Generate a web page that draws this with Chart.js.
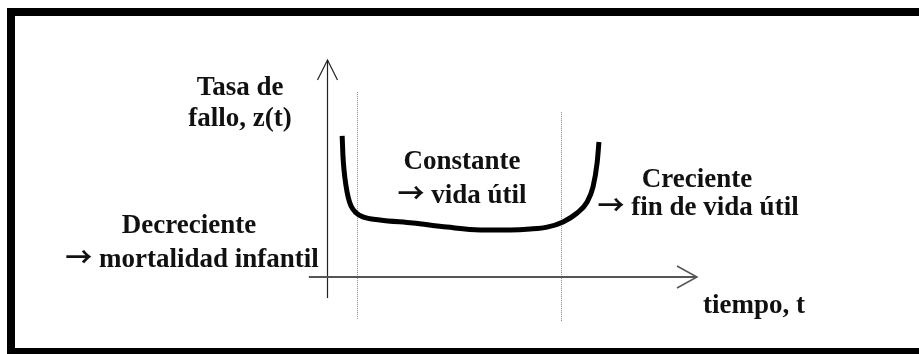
<!DOCTYPE html>
<html>
<head>
<meta charset="utf-8">
<script src="https://cdn.jsdelivr.net/npm/chart.js@4/dist/chart.umd.min.js"></script>
<style>
  html, body { margin: 0; padding: 0; background: #fff; }
  #wrap { width: 919px; height: 354px; position: relative; overflow: hidden; }
  canvas { display: block; }
</style>
</head>
<body>
<div id="wrap"><canvas id="c" width="919" height="354"></canvas></div>
<script>
// ---- Data (bathtub curve) ----
const tValues = [4.1, 4.3, 4.6, 5.1, 5.7, 6.5, 7.6, 9.7, 14.3, 23.2, 32.4, 41.4, 49.5, 54.9, 59.5, 63.8, 67.6, 70.3, 71.9, 73.0, 73.5];
const zValues = [65.0, 56.2, 49.3, 42.4, 36.9, 32.7, 30.0, 27.7, 26.3, 24.9, 23.0, 21.7, 21.7, 22.1, 23.0, 25.4, 29.5, 34.6, 41.5, 52.5, 62.2];
const phaseBoundaries = [8.1, 63.2];
const axisLabels = ["Tasa de", "fallo, z(t)", "tiempo, t"];
const phaseLabels = [
  ["Decreciente", "\u2192 mortalidad infantil"],
  ["Constante", "\u2192 vida \u00fatil"],
  ["Creciente", "\u2192 fin de vida \u00fatil"]
];

// ---- Scale ranges ----
const X_MIN = -88.38, X_MAX = 160;
const Y_MIN = -35.48, Y_MAX = 127.65;

const FONT = 'bold 27px "Liberation Serif", "Times New Roman", serif';
const ARROW_FONT = 'bold 27px "Noto Sans CJK SC", "DejaVu Sans", sans-serif';
const TEXT_COLOR = '#111';

function drawLine(ctx, txt, cx, by) {
  if (txt.charAt(0) === '\u2192') {
    const rest = txt.slice(1);
    ctx.font = ARROW_FONT;
    const wa = ctx.measureText('\u2192').width;
    ctx.font = FONT;
    const wr = ctx.measureText(rest).width;
    const x0 = cx - (wa + wr) / 2;
    ctx.textAlign = 'left';
    ctx.font = ARROW_FONT;
    ctx.fillText('\u2192', x0, by);
    ctx.font = FONT;
    ctx.fillText(rest, x0 + wa, by);
  } else {
    ctx.font = FONT;
    ctx.textAlign = 'center';
    ctx.fillText(txt, cx, by);
  }
}

const decoPlugin = {
  id: 'deco',
  beforeDraw(chart) {
    const ctx = chart.ctx;
    ctx.save();
    ctx.fillStyle = '#fff';
    ctx.fillRect(0, 0, chart.width, chart.height);
    // frame
    ctx.fillStyle = '#000';
    ctx.fillRect(7, 8, chart.width, 8);
    ctx.fillRect(7, 8, 8, chart.height);
    ctx.fillRect(7, 348, chart.width, 10);
    ctx.restore();
  },
  beforeDatasetsDraw(chart) {
    const ctx = chart.ctx;
    const xs = chart.scales.x, ys = chart.scales.y;
    const X = v => xs.getPixelForValue(v);
    const Y = v => ys.getPixelForValue(v);
    ctx.save();
    // dotted phase boundaries
    ctx.strokeStyle = '#8a8a8a';
    ctx.lineWidth = 1;
    ctx.setLineDash([1, 1]);
    const tops = [85.3, 76.0];
    const bots = [-19.4, -20.3];
    phaseBoundaries.forEach((b, i) => {
      const px = Math.round(X(b)) + 0.5;
      ctx.beginPath();
      ctx.moveTo(px, Y(tops[i]));
      ctx.lineTo(px, Y(bots[i]));
      ctx.stroke();
    });
    ctx.setLineDash([]);
    // y axis with arrow
    ctx.strokeStyle = '#222';
    ctx.lineWidth = 1.2;
    const x0 = Math.round(X(0)) + 0.5;
    ctx.beginPath();
    ctx.moveTo(x0, Y(-9.7));
    ctx.lineTo(x0, Y(100));
    ctx.stroke();
    ctx.beginPath();
    ctx.moveTo(x0 - 10, Y(100) + 20);
    ctx.lineTo(x0, Y(100));
    ctx.lineTo(x0 + 10, Y(100) + 20);
    ctx.stroke();
    // x axis with arrow
    ctx.strokeStyle = '#555';
    ctx.lineWidth = 2;
    const y0 = Math.round(Y(0));
    ctx.beginPath();
    ctx.moveTo(X(-4.9), y0);
    ctx.lineTo(X(100), y0);
    ctx.stroke();
    ctx.lineWidth = 1.5;
    ctx.beginPath();
    ctx.moveTo(X(100) - 20, y0 - 11);
    ctx.lineTo(X(100), y0);
    ctx.lineTo(X(100) - 20, y0 + 11);
    ctx.stroke();
    ctx.restore();
  },
  afterDatasetsDraw(chart) {
    const ctx = chart.ctx;
    const xs = chart.scales.x, ys = chart.scales.y;
    const X = v => xs.getPixelForValue(v);
    const Y = v => ys.getPixelForValue(v);
    ctx.save();
    ctx.fillStyle = TEXT_COLOR;
    ctx.textBaseline = 'alphabetic';
    drawLine(ctx, axisLabels[0], X(-23.5), Y(83.9));
    drawLine(ctx, axisLabels[1], X(-23.5), Y(69.6));
    drawLine(ctx, axisLabels[2], X(115.4), Y(-16.6));
    const pos = [
      [[-37.3, 20.3], [-36.5, 4.6]],
      [[36.5, 49.8], [36.5, 34.1]],
      [[100.0, 41.5], [100.3, 28.6]]
    ];
    phaseLabels.forEach((lines, i) => {
      lines.forEach((txt, j) => {
        drawLine(ctx, txt, X(pos[i][j][0]), Y(pos[i][j][1]));
      });
    });
    ctx.restore();
  }
};

new Chart(document.getElementById('c'), {
  type: 'scatter',
  data: {
    datasets: [{
      data: tValues.map((t, i) => ({ x: t, y: zValues[i] })),
      showLine: true,
      borderColor: '#000',
      borderWidth: 5,
      pointRadius: 0,
      cubicInterpolationMode: 'monotone',
      borderCapStyle: 'butt',
      borderJoinStyle: 'round'
    }]
  },
  options: {
    responsive: false,
    animation: false,
    layout: { padding: 0 },
    plugins: { legend: { display: false }, tooltip: { enabled: false } },
    scales: {
      x: { type: 'linear', min: X_MIN, max: X_MAX, display: false },
      y: { type: 'linear', min: Y_MIN, max: Y_MAX, display: false }
    }
  },
  plugins: [decoPlugin]
});
</script>
</body>
</html>
